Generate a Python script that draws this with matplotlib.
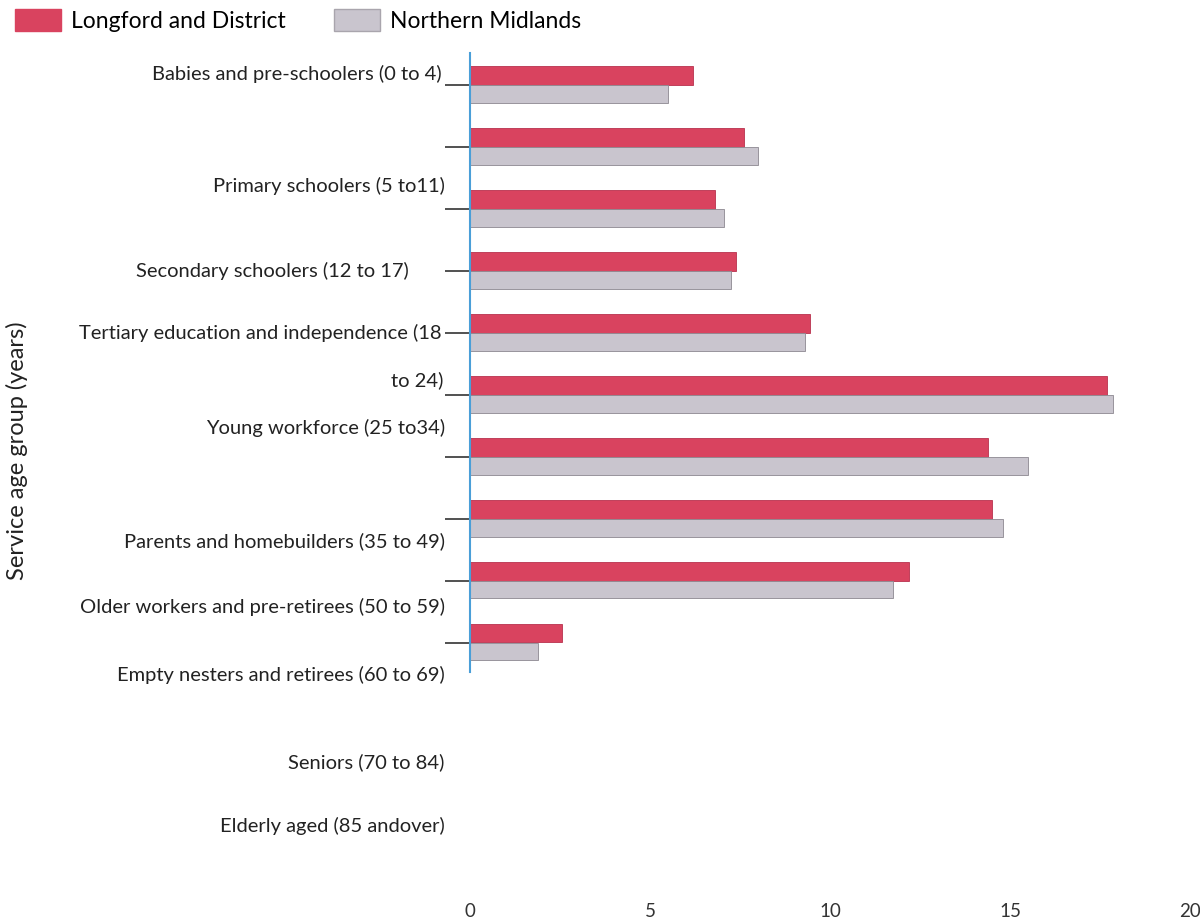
import matplotlib
matplotlib.use("Agg")
import matplotlib.pyplot as plt
from matplotlib.patches import Patch

plt.rcParams['font.family'] = ['Lato', 'DejaVu Sans']

# values per service age group (top to bottom), percent
longford = [6.2, 7.6, 6.8, 7.4, 9.45, 17.7, 14.4, 14.5, 12.2, 2.55]
midlands = [5.5, 8.0, 7.05, 7.25, 9.3, 17.85, 15.5, 14.8, 11.75, 1.9]

# the category labels, as they sit in the scanned chart (offset from the bars)
labels = ['Babies and pre-schoolers (0 to 4)',
          'Primary schoolers (5 to11)',
          'Secondary schoolers (12 to 17)',
          'Tertiary education and independence (18',
          'to 24)',
          'Young workforce (25 to34)',
          'Parents and homebuilders (35 to 49)',
          'Older workers and pre-retirees (50 to 59)',
          'Empty nesters and retirees (60 to 69)',
          'Seniors (70 to 84)',
          'Elderly aged (85 andover)']
label_y = [-0.18, 1.63, 3.0, 4.0, 4.76, 5.53, 7.35, 8.42, 9.52, 10.92, 11.95]
label_x = [-0.8, -0.7, -1.7, -0.8, -0.75, -0.7, -0.7, -0.7, -0.7, -0.7, -0.7]

xticks = [0, 5, 10, 15, 20]

red = '#d9435f'
grey = '#c9c5ce'

fig = plt.figure(figsize=(12, 9.23), dpi=100)
ax = fig.add_axes([0.3917, 0.028, 0.6, 0.915])

n = len(longford)
pos = list(range(n))
ax.barh([p - 0.16 for p in pos], longford, height=0.3, color=red,
        edgecolor='#b8324e', linewidth=0.6)
ax.barh([p + 0.14 for p in pos], midlands, height=0.28, color=grey,
        edgecolor='#8c8890', linewidth=0.6)

ax.set_xlim(0, 20)
ax.set_ylim(13.1, -0.53)

ax.spines['top'].set_visible(False)
ax.spines['right'].set_visible(False)
ax.spines['bottom'].set_visible(False)
ax.spines['left'].set_color('#4a9fd8')
ax.spines['left'].set_linewidth(1.5)
ax.spines['left'].set_bounds(-0.53, 9.47)

ax.set_yticks(pos)
ax.set_yticklabels([])
ax.tick_params(axis='y', length=18, width=1.2, color='#333333', direction='out')
ax.set_xticks(xticks)
ax.set_xticklabels([str(t) for t in xticks], fontsize=13.5, color='#333333')
ax.tick_params(axis='x', length=0, pad=4)

for txt, yy, xx in zip(labels, label_y, label_x):
    ax.text(xx, yy, txt, ha='right', va='center', fontsize=14.5, color='#222222')

fig.text(0.014, 0.512, 'Service age group (years)', rotation=90, ha='center',
         va='center', fontsize=17, color='#222222')

handles = [Patch(facecolor=red, edgecolor=red),
           Patch(facecolor=grey, edgecolor='#a9a5ad')]
fig.legend(handles, ['Longford and District', 'Northern Midlands'],
           loc='upper left', bbox_to_anchor=(15 / 1200, 1 - 9 / 923), ncol=2,
           frameon=False, fontsize=16.5, handlelength=2.0, handleheight=1.1,
           columnspacing=2.1, handletextpad=0.45, borderpad=0,
           borderaxespad=0)

fig.savefig('out.png', dpi=100)
